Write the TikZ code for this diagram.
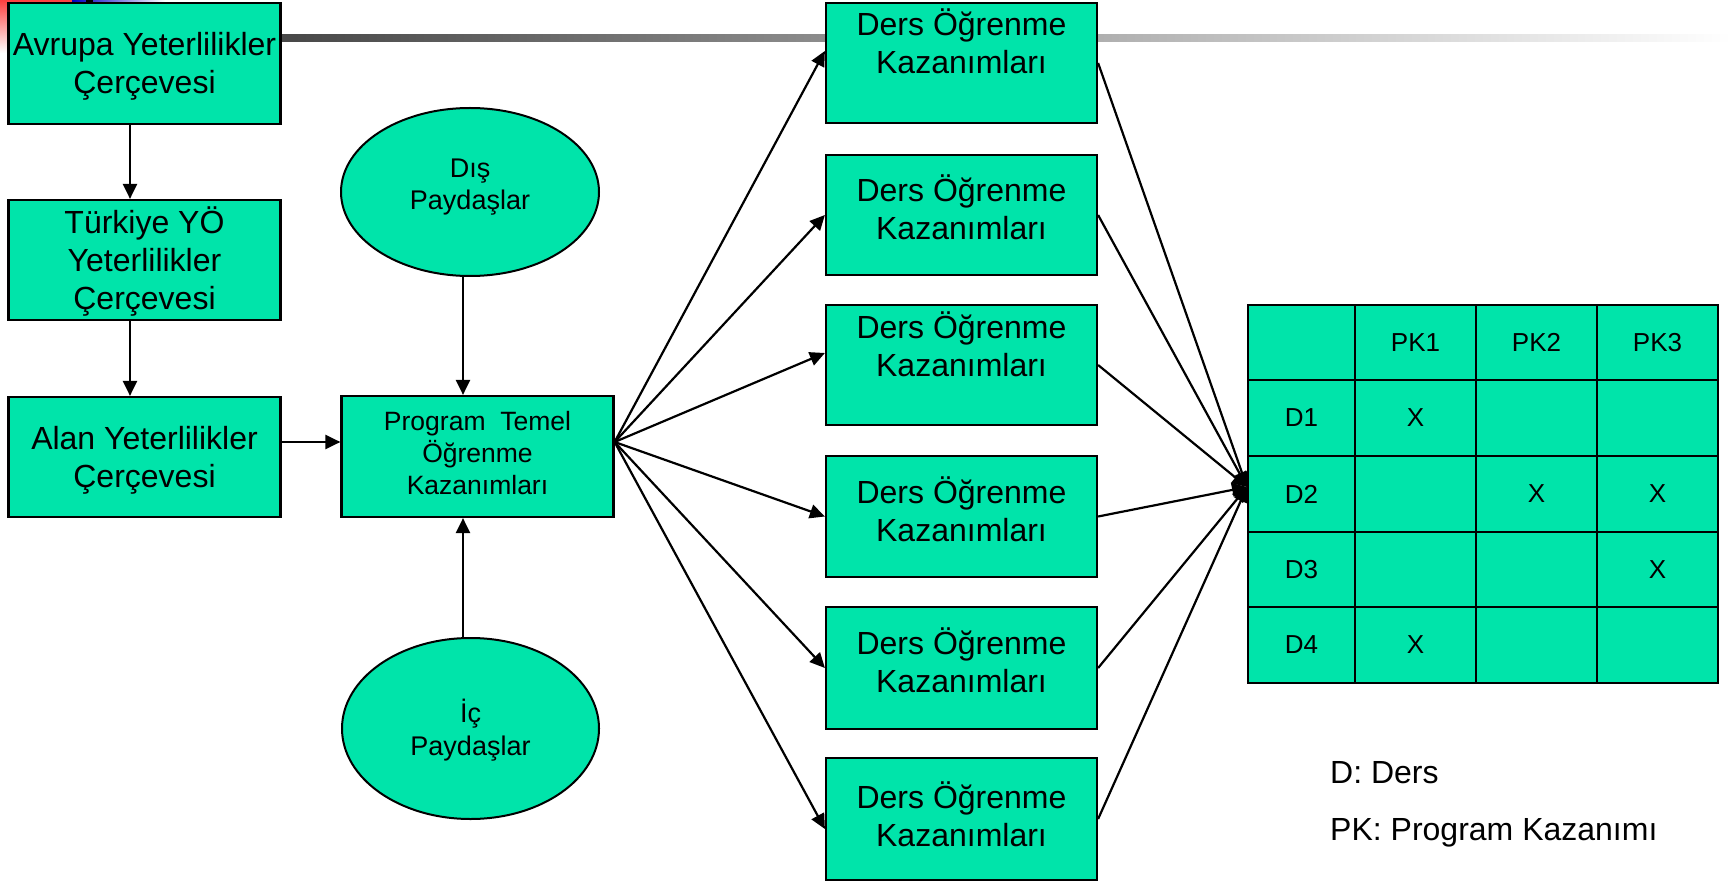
\documentclass[tikz,border=0pt]{standalone}
\usepackage{fontspec}
\setmainfont{Liberation Sans}
\usetikzlibrary{arrows.meta,shapes.geometric}
\definecolor{mint}{RGB}{0,228,170}
\begin{document}
\begin{tikzpicture}[x=1pt,y=-1pt,
  box/.style={draw=black,line width=2.2pt,fill=mint,rectangle,inner sep=0pt,minimum width=272pt},
  oval/.style={draw=black,line width=2pt,fill=mint,ellipse,inner sep=0pt},
  cell/.style={draw=black,line width=2pt,fill=mint,rectangle,inner sep=0pt},
  big/.style={font=\fontsize{32}{38}\selectfont,align=center,inner sep=0pt},
  mid/.style={font=\fontsize{26.5}{32}\selectfont,align=center,inner sep=0pt},
  tab/.style={font=\fontsize{26}{30}\selectfont,inner sep=0pt},
  arr/.style={-{Triangle[length=15pt,width=14pt]},line width=2.2pt}]
\useasboundingbox (0,0) rectangle (1731,882);

% slide decoration in the corner and the fading rule
\shade[top color=red!75,bottom color=white] (0,0) rectangle (72,53);
\shade[left color=blue!75!black,right color=white] (72,0) rectangle (165,3);
\fill[black] (86,0) rectangle (93,3);
\shade[left color=black!72,middle color=black!25,right color=white] (281,34.5) rectangle (1731,41.5);

% qualification frameworks
\node[box,minimum height=121pt] (eqf) at (144.5,63.5) {};
\node[big] (eqft) at (144.5,66.5) {Avrupa Yeterlilikler\\Çerçevesi};
\node[box,minimum height=120pt] (tyc) at (144.5,260) {};
\node[big] (tyct) at (144.5,262) {Türkiye YÖ\\Yeterlilikler\\Çerçevesi};
\node[box,minimum height=120pt] (ayc) at (144.5,457) {};
\node[big] (ayct) at (144.5,460) {Alan Yeterlilikler\\Çerçevesi};

% programme outcomes and stakeholders
\node[box,minimum height=121pt] (ptk) at (477.5,456.5) {};
\node[mid] (ptkt) at (477.5,453) {Program~ Temel\\Öğrenme\\Kazanımları};
\node[oval,minimum width=258pt,minimum height=168pt] (dis) at (470,192) {};
\node[mid,font=\fontsize{27}{32}\selectfont] (dist) at (470,187) {Dış\\Paydaşlar};
\node[oval,minimum width=257pt,minimum height=181pt] (ic) at (470.5,728.5) {};
\node[mid,font=\fontsize{27}{33}\selectfont] (ict) at (470.5,730) {İç\\Paydaşlar};

% course learning outcomes
\foreach \n/\y/\h/\t in {1/63/120/41.5,2/215/120/207,3/365/120/344,4/516.5/121/509,5/668/122/660,6/819/122/814.5}{
  \node[box,minimum width=271pt,minimum height=\h pt] (d\n) at (961.5,\y) {};
  \node[big] (d\n t) at (961.5,\t) {Ders Öğrenme\\Kazanımları};
}

% course / programme outcome matrix
\foreach \r/\y/\h in {0/342.5/75,1/418/76,2/494/76,3/569.5/75,4/645/76}{
  \foreach \c/\x/\w in {0/1301.5/107,1/1415.5/121,2/1536.5/121,3/1657.5/121}{
    \node[cell,minimum width=\w pt,minimum height=\h pt] (c\r\c) at (\x,\y) {};
  }
}
\node[tab] (h1) at (c01) {PK1};
\node[tab] (h2) at (c02) {PK2};
\node[tab] (h3) at (c03) {PK3};
\node[tab] (r1) at (c10) {D1};
\node[tab] (r2) at (c20) {D2};
\node[tab] (r3) at (c30) {D3};
\node[tab] (r4) at (c40) {D4};
\node[tab] (x11) at (c11) {X};
\node[tab] (x22) at (c22) {X};
\node[tab] (x23) at (c23) {X};
\node[tab] (x33) at (c33) {X};
\node[tab] (x41) at (c41) {X};

% legend
\node[font=\fontsize{32}{38}\selectfont,inner sep=0pt,anchor=base west] (leg1) at (1330,783) {D: Ders};
\node[font=\fontsize{32}{38}\selectfont,inner sep=0pt,anchor=base west] (leg2) at (1330,840) {PK: Program Kazanımı};

% connectors
\draw[arr] ([xshift=-14.5pt]eqf.south) -- ([xshift=-14.5pt]tyc.north);
\draw[arr] ([xshift=-14.5pt]tyc.south) -- ([xshift=-14.5pt]ayc.north);
\draw[arr] ([yshift=15pt]ayc.east) -- ([yshift=15pt]ayc.east -| ptk.west);
\draw[arr] ([xshift=-7pt]dis.south) -- ([xshift=-7pt]dis.south |- ptk.north);
\draw[arr] ([xshift=-7.5pt]ic.north) -- ([xshift=-7.5pt]ic.north |- ptk.south);

\coordinate (fan) at ([yshift=14.5pt]ptk.east);
\draw[arr] (fan) -- ([yshift=12pt]d1.west);
\draw[arr] (fan) -- (d2.west);
\draw[arr] (fan) -- ([yshift=12pt]d3.west);
\draw[arr] (fan) -- (d4.west);
\draw[arr] (fan) -- (d5.west);
\draw[arr] (fan) -- ([yshift=-10pt]d6.west);

\coordinate (hub) at ([yshift=7pt]c20.west);
\foreach \n in {1,...,6}{
  \draw[arr] (d\n.east) -- (hub);
}
\end{tikzpicture}
\end{document}
